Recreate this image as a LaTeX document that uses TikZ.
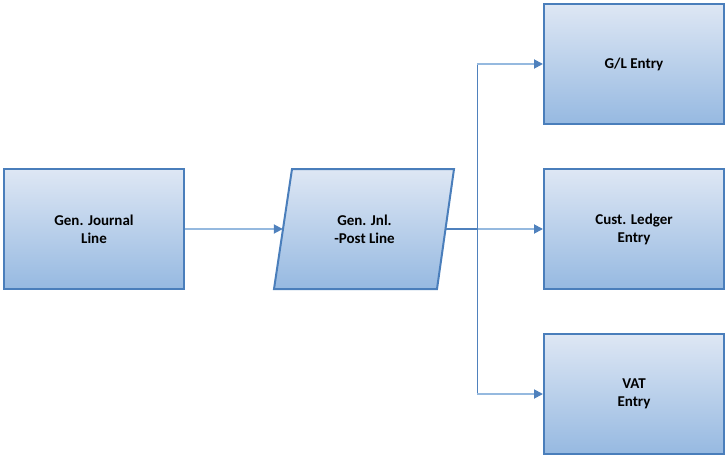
\documentclass[tikz,border=0pt]{standalone}
\usepackage{fontspec}
\setmainfont{Carlito}
\usetikzlibrary{arrows.meta}
\definecolor{bord}{RGB}{74,126,187}
\definecolor{ctop}{RGB}{222,231,244}
\definecolor{cbot}{RGB}{150,185,225}
\definecolor{lnk}{RGB}{149,185,223}
\definecolor{dk}{RGB}{79,129,189}
\begin{document}
\begin{tikzpicture}[x=1pt,y=-1pt,
  box/.style={draw=bord, line width=2pt, top color=ctop, bottom color=cbot,
    minimum width=180pt, minimum height=120pt, inner sep=0pt,
    font=\bfseries\fontsize{15}{18}\selectfont, align=center},
  lbl/.style={inner sep=0pt, minimum width=163pt, minimum height=120pt,
    font=\bfseries\fontsize{15}{18}\selectfont, align=center},
  link/.style={draw=lnk, line width=1.8pt, -{Triangle[length=9pt,width=9pt,color=dk]}},
  dkline/.style={draw=dk, line width=1.8pt},
  vline/.style={draw=dk, line width=0.9pt}]
\useasboundingbox (0,0) rectangle (727,457);
\node[box] (gj) at (94,229) {Gen. Journal\\Line};
\shade[top color=ctop, bottom color=cbot, draw=bord, line width=2pt]
  (292,169) -- (454,169) -- (437,289) -- (274,289) -- cycle;
\node[lbl] (post) at (364.5,229) {Gen. Jnl.\\-Post Line};
\node[box] (gl) at (634,64) {G/L Entry};
\node[box] (cl) at (634,229) {Cust. Ledger\\Entry};
\node[box] (vat) at (634,394) {VAT\\Entry};
\coordinate (j) at (477,229);
\coordinate (jt) at (j |- gl.west);
\coordinate (jb) at (j |- vat.west);
\draw[link] (gj.east) -- (post.west);
\draw[link] (j) -- (cl.west);
\draw[dkline] (post.east) -- (j);
\draw[vline] (jt) -- (jb);
\draw[link] (jt) -- (gl.west);
\draw[link] (jb) -- (vat.west);
\end{tikzpicture}
\end{document}
